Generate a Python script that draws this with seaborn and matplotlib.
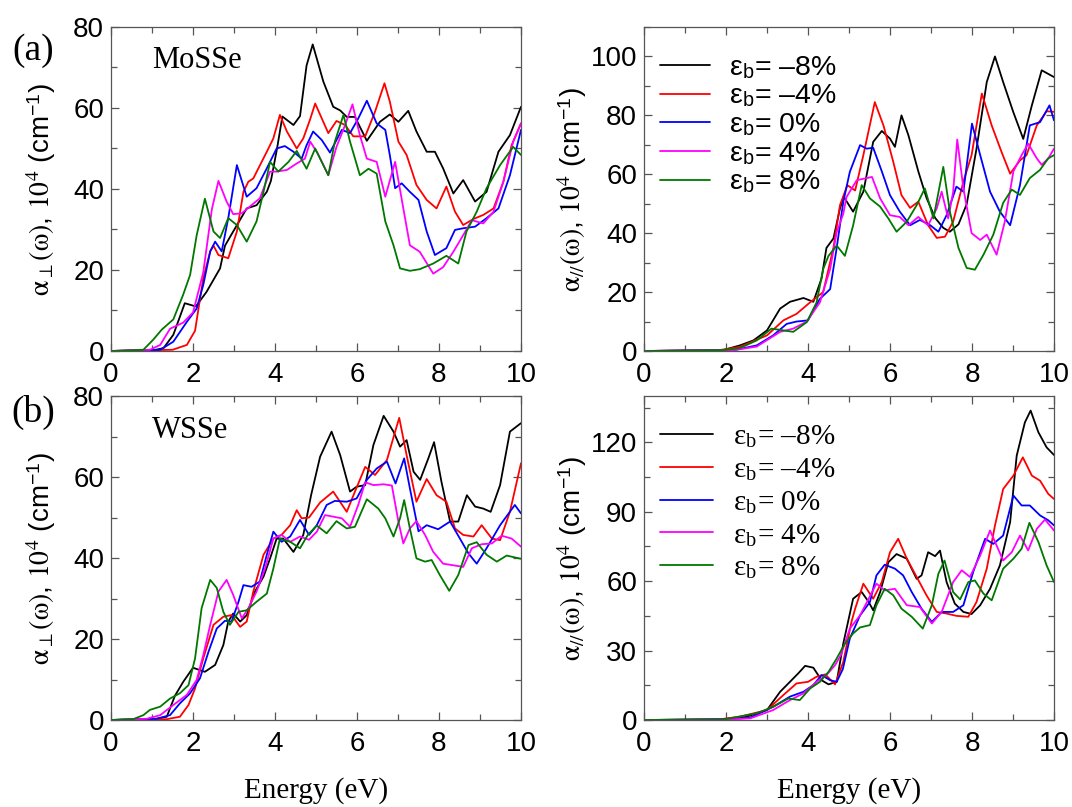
import matplotlib
matplotlib.use('Agg')
import matplotlib.pyplot as plt
import seaborn as sns
from matplotlib.ticker import MultipleLocator

# ---------------- (a) MoSSe, alpha_perp ----------------
a_perp_x_m8 = [0, 0.95, 1.28, 1.52, 1.8, 2.07, 2.33, 2.66, 2.78, 2.98, 3.31, 3.55, 3.8, 3.9, 4.05, 4.18, 4.45, 4.61, 4.77, 4.92, 5.18, 5.42, 5.59, 5.75, 5.95, 6.24, 6.56, 6.8, 7.01, 7.25, 7.45, 7.7, 7.9, 8.1, 8.35, 8.59, 8.88, 9.16, 9.45, 9.73, 10]
a_perp_y_m8 = [0, 0, 0.7, 4, 11.8, 11, 14.6, 20.4, 26, 29.5, 35.2, 36, 39.3, 42, 50, 57.9, 55.8, 58, 70.5, 75.7, 66.5, 60.3, 59.4, 57.8, 57.8, 51.9, 56.6, 58.4, 56.6, 59.3, 54.2, 49.2, 49.2, 45.1, 38.9, 42.2, 36.9, 39.3, 49.2, 53.3, 60.3]
a_perp_x_m4 = [0, 1.5, 1.85, 2.05, 2.25, 2.42, 2.5, 2.62, 2.86, 3.07, 3.23, 3.35, 3.47, 3.8, 3.96, 4.12, 4.29, 4.53, 4.69, 4.85, 4.98, 5.3, 5.5, 5.71, 5.91, 6.2, 6.44, 6.67, 6.8, 7.01, 7.21, 7.45, 7.7, 7.94, 8.18, 8.39, 8.59, 8.84, 9.08, 9.33, 9.57, 9.77, 10]
a_perp_y_m4 = [0, 0.3, 1.5, 5, 18, 24.6, 26, 23.7, 22.9, 29.5, 39.3, 41.8, 42.6, 49.2, 52.5, 58.3, 54.2, 50, 52.5, 57, 61.1, 53.8, 56.8, 55.8, 53, 53, 59.1, 66.1, 61.6, 51.7, 48.4, 41, 37.3, 35.2, 40.6, 34.4, 31.1, 32.6, 33.6, 35.2, 41.8, 50.8, 56.2]
a_perp_x_0 = [0, 1.2, 1.52, 1.85, 2.09, 2.25, 2.42, 2.54, 2.7, 2.86, 3.07, 3.31, 3.55, 3.8, 4.04, 4.24, 4.45, 4.65, 4.77, 4.93, 5.14, 5.34, 5.63, 5.83, 6.03, 6.24, 6.48, 6.69, 6.8, 6.93, 7.09, 7.29, 7.5, 7.7, 7.9, 8.18, 8.39, 8.59, 8.88, 9.16, 9.45, 9.73, 10]
a_perp_y_0 = [0, 0.3, 2.3, 7.2, 10.5, 16.3, 24.6, 27, 24.6, 32.8, 45.9, 38.1, 40.2, 45.1, 50, 50.6, 49.2, 47.5, 50.8, 54.2, 52.1, 49, 54.6, 53.8, 57.4, 61.8, 56.2, 54.6, 48.4, 40.2, 41.4, 39.3, 37.3, 29.5, 23.7, 25.4, 29.9, 30.3, 30.7, 32.8, 35.2, 43.4, 54.6]
a_perp_x_p4 = [0, 0.95, 1.2, 1.44, 1.76, 2.0, 2.25, 2.46, 2.62, 2.82, 2.98, 3.19, 3.39, 3.63, 3.88, 4.04, 4.29, 4.53, 4.73, 4.86, 5.04, 5.3, 5.5, 5.71, 5.89, 6.07, 6.24, 6.48, 6.69, 6.93, 7.13, 7.29, 7.53, 7.86, 8.1, 8.35, 8.59, 8.8, 9.08, 9.33, 9.57, 9.81, 10]
a_perp_y_p4 = [0, 0.3, 1.5, 5.5, 7, 9.5, 19.4, 35, 42, 36.9, 33.8, 34, 35.7, 37.7, 44.3, 44.3, 44.7, 46.3, 47.5, 51.7, 48.8, 43.4, 50.4, 55.8, 60.9, 53.3, 47.5, 46.7, 38.1, 46.7, 35.2, 26.1, 24.5, 19.1, 20.7, 24.5, 28.6, 32.3, 31.5, 34.4, 41.8, 51.7, 56.2]
a_perp_x_p8 = [0, 0.79, 1.03, 1.24, 1.52, 1.76, 1.93, 2.09, 2.29, 2.5, 2.66, 2.86, 3.07, 3.31, 3.55, 3.72, 3.88, 4.08, 4.33, 4.53, 4.77, 4.98, 5.3, 5.46, 5.67, 5.83, 6.07, 6.28, 6.48, 6.69, 6.89, 7.05, 7.29, 7.53, 7.86, 8.18, 8.47, 8.67, 8.92, 9.16, 9.49, 9.81, 10]
a_perp_y_p8 = [0, 0.3, 2.8, 5.3, 7.8, 13.9, 18.8, 28.6, 37.6, 29.5, 27.9, 32.8, 31.1, 27, 32, 39.3, 46.7, 44.3, 46.7, 49.4, 45, 50, 43.4, 51.7, 58.3, 51.7, 43.4, 45, 43.8, 32, 26.1, 20.4, 19.8, 20.2, 21.6, 23.5, 21.6, 29.5, 34.4, 40.2, 45.9, 50.4, 48.4]

# ---------------- (a) MoSSe, alpha_parallel ----------------
a_par_x_m8 = [0, 1.93, 2.34, 2.67, 3.0, 3.32, 3.56, 3.89, 4.13, 4.33, 4.45, 4.62, 4.78, 4.87, 5.1, 5.35, 5.59, 5.8, 6.0, 6.12, 6.28, 6.45, 6.69, 6.89, 7.1, 7.3, 7.46, 7.67, 7.87, 8.11, 8.36, 8.56, 8.76, 9.01, 9.25, 9.46, 9.7, 10]
a_par_y_m8 = [0, 0.3, 1.9, 3.6, 7, 14.4, 16.7, 18, 16.7, 24.6, 35, 38.2, 48.4, 52.4, 47.3, 54.1, 71, 74.7, 72.1, 69.3, 80, 73.2, 61, 52, 45.2, 41.8, 40.5, 43, 49.8, 68.7, 91.3, 100, 91.3, 81, 72, 83.4, 95.3, 93]
a_par_x_m4 = [0, 1.8, 2.34, 3.0, 3.4, 3.72, 4.05, 4.37, 4.62, 4.78, 4.96, 5.15, 5.35, 5.63, 5.84, 6.08, 6.28, 6.49, 6.69, 6.93, 7.14, 7.34, 7.54, 7.79, 7.99, 8.24, 8.48, 8.72, 8.93, 9.17, 9.33, 9.58, 9.82, 10]
a_par_y_m4 = [0, 0.2, 1.4, 5.3, 10.4, 12.6, 16.5, 20, 35, 49.5, 56.3, 54.5, 66.5, 84.5, 76.6, 64.2, 52.9, 48.6, 50.7, 42.7, 38.4, 38.8, 43.9, 57.5, 66.5, 87.4, 76.6, 67.6, 60.2, 64.7, 66.5, 76.6, 81.4, 81.2]
a_par_x_0 = [0, 2.2, 2.75, 3.15, 3.48, 3.72, 4.0, 4.29, 4.54, 4.7, 4.86, 5.02, 5.27, 5.43, 5.59, 5.8, 6.0, 6.24, 6.49, 6.73, 6.98, 7.18, 7.38, 7.62, 7.79, 8.0, 8.2, 8.44, 8.68, 8.93, 9.17, 9.41, 9.66, 9.89, 10]
a_par_y_0 = [0, 0.3, 1.9, 5.3, 9.2, 10, 10.4, 17.7, 21, 35, 50.6, 60.8, 69.9, 68.7, 69, 61, 52.9, 47.3, 42.7, 44.5, 42.7, 40.5, 46.1, 55.8, 54.1, 77.2, 66.5, 54.1, 47.3, 42.7, 56.3, 76.6, 77.7, 83.4, 78.3]
a_par_x_p4 = [0, 2.2, 2.75, 3.32, 3.64, 3.97, 4.29, 4.54, 4.7, 4.86, 4.94, 5.19, 5.43, 5.56, 5.76, 6.0, 6.24, 6.45, 6.69, 6.93, 7.14, 7.26, 7.42, 7.54, 7.64, 7.79, 7.99, 8.2, 8.36, 8.6, 8.8, 9.01, 9.21, 9.37, 9.58, 9.7, 9.86, 10]
a_par_y_p4 = [0, 0.3, 1.5, 6.5, 7.6, 10, 16.5, 27.8, 40.3, 46.6, 52.3, 58, 58.7, 59.1, 51.8, 46.1, 45.5, 42.7, 45.5, 42.7, 48.4, 54.1, 45, 54, 71.8, 55.2, 40, 37.7, 39.5, 32.7, 43.9, 61, 66.5, 70.4, 65.4, 63.2, 65.4, 68.7]
a_par_x_p8 = [0, 1.9, 2.34, 2.75, 3.11, 3.4, 3.64, 3.97, 4.21, 4.37, 4.5, 4.7, 4.9, 5.1, 5.31, 5.51, 5.76, 5.96, 6.16, 6.41, 6.65, 6.85, 7.06, 7.3, 7.46, 7.67, 7.87, 8.07, 8.28, 8.52, 8.76, 8.97, 9.17, 9.41, 9.66, 9.86, 10]
a_par_y_p8 = [0, 0.3, 1, 3.6, 7.6, 7, 6.5, 9.8, 16.5, 27.8, 32.3, 35.8, 32.3, 42.6, 56.3, 51.8, 49, 45, 40.5, 43.9, 49.5, 55.2, 45, 62.5, 47.3, 35, 28.2, 27.6, 32.7, 39.5, 50.3, 54.8, 53, 58.7, 61.5, 65.4, 66.5]

# ---------------- (b) WSSe, alpha_perp ----------------
b_perp_x_m8 = [0, 1.11, 1.36, 1.56, 1.76, 2.0, 2.29, 2.54, 2.74, 2.86, 2.98, 3.15, 3.31, 3.51, 3.72, 3.88, 4.04, 4.2, 4.45, 4.69, 4.88, 5.1, 5.38, 5.59, 5.83, 5.99, 6.2, 6.4, 6.65, 6.89, 7.05, 7.21, 7.38, 7.54, 7.74, 7.88, 8.06, 8.27, 8.47, 8.68, 8.88, 9.08, 9.26, 9.49, 9.73, 10]
b_perp_y_m8 = [0, 0.3, 0.8, 6, 9.4, 12.9, 11.9, 13.6, 18.5, 24.3, 26.3, 24.3, 25.9, 31.7, 35.4, 39.9, 44.8, 44.8, 41.5, 45.7, 55.5, 65, 71.2, 65.4, 56.4, 57.6, 58, 67.9, 75.1, 71.2, 67.5, 69.1, 61.3, 59.3, 64.6, 68.6, 58.8, 49, 49, 55.5, 52.7, 52.2, 51.4, 58, 71.2, 73.3]
b_perp_x_m4 = [0, 1.36, 1.68, 1.89, 2.05, 2.25, 2.5, 2.74, 2.94, 3.15, 3.31, 3.47, 3.72, 3.96, 4.16, 4.37, 4.53, 4.65, 4.83, 5.1, 5.42, 5.75, 5.95, 6.2, 6.44, 6.73, 6.93, 7.03, 7.21, 7.45, 7.7, 7.94, 8.18, 8.39, 8.59, 8.84, 9.04, 9.29, 9.49, 9.73, 10]
b_perp_y_m4 = [0, 0.2, 0.8, 3.7, 7.8, 15.2, 23.5, 25.5, 25.9, 23, 24.3, 31.7, 40.8, 44.8, 45.7, 48.1, 51.8, 49.8, 50, 53.7, 56.4, 51.4, 56.4, 62.5, 60.5, 64.2, 71.2, 74.6, 65.4, 53.9, 59.5, 55.5, 53.9, 47.3, 45.7, 45.3, 48.1, 44.8, 44.4, 51.4, 63.4]
b_perp_x_0 = [0, 1.11, 1.44, 1.68, 1.93, 2.17, 2.38, 2.58, 2.78, 2.94, 3.11, 3.23, 3.43, 3.63, 3.8, 3.96, 4.16, 4.37, 4.61, 4.83, 5.02, 5.26, 5.46, 5.75, 5.99, 6.24, 6.48, 6.73, 6.94, 7.15, 7.29, 7.5, 7.7, 7.98, 8.27, 8.51, 8.72, 8.92, 9.16, 9.49, 9.85, 10]
b_perp_y_0 = [0, 0.3, 1.2, 4.1, 6.6, 10.3, 16.9, 22.6, 24.5, 24.3, 29.2, 33.3, 32.9, 34.2, 40.8, 46.5, 44, 45.3, 49.4, 45.7, 48.1, 53.1, 54.1, 53.9, 54.7, 59.3, 62.1, 63.8, 58.4, 64.6, 57.2, 46.6, 48.1, 47.1, 49, 44.8, 41.1, 38.6, 42.4, 48.1, 53.1, 51]
b_perp_x_p4 = [0, 0.87, 1.2, 1.52, 1.85, 2.09, 2.25, 2.42, 2.62, 2.82, 2.98, 3.19, 3.35, 3.55, 3.76, 3.96, 4.16, 4.37, 4.61, 4.83, 5.02, 5.22, 5.42, 5.63, 5.83, 6.03, 6.2, 6.4, 6.65, 6.85, 7.01, 7.13, 7.29, 7.45, 7.66, 7.86, 8.1, 8.35, 8.59, 8.8, 9.04, 9.29, 9.53, 9.77, 10]
b_perp_y_p4 = [0, 0.3, 1.2, 3.7, 6.2, 9.9, 16, 23.5, 31.7, 34.6, 30.9, 25.1, 27.6, 31.7, 37.5, 44.8, 45.7, 44, 45.3, 44.5, 46.5, 50.6, 50.2, 49.8, 47.7, 53.1, 58.7, 58, 58.2, 57.9, 49, 43.6, 47.3, 49.1, 45.7, 41.5, 38.6, 38.2, 37.8, 42.4, 43.4, 43.6, 45.5, 44.8, 42.8]
b_perp_x_p8 = [0, 0.54, 0.79, 0.95, 1.2, 1.44, 1.68, 1.89, 2.05, 2.21, 2.42, 2.58, 2.74, 2.9, 3.11, 3.31, 3.55, 3.8, 3.96, 4.12, 4.37, 4.61, 4.8, 5.02, 5.26, 5.5, 5.75, 5.95, 6.24, 6.52, 6.69, 6.89, 7.05, 7.15, 7.29, 7.45, 7.66, 7.82, 8.02, 8.25, 8.47, 8.72, 8.92, 9.16, 9.41, 9.65, 10]
b_perp_y_p8 = [0, 0.2, 1.2, 2.5, 3.3, 5.3, 6.6, 8.6, 15.2, 27.6, 34.6, 32.6, 26.7, 23.5, 26.7, 27.1, 29.2, 31.2, 37.4, 44.8, 44, 42.4, 45.7, 48, 46.1, 49.1, 47.3, 47.7, 54.5, 52.2, 49.8, 45.3, 49.8, 54.3, 47.3, 39.9, 39.1, 39.5, 35.8, 31.9, 35.8, 43.2, 43.9, 40.8, 39.1, 40.6, 39.8]

# ---------------- (b) WSSe, alpha_parallel ----------------
b_par_x_m8 = [0, 1.93, 2.5, 3.0, 3.32, 3.56, 3.76, 3.93, 4.13, 4.33, 4.5, 4.7, 4.86, 5.1, 5.31, 5.48, 5.59, 5.76, 5.96, 6.16, 6.41, 6.65, 6.77, 6.93, 7.1, 7.22, 7.38, 7.58, 7.79, 7.99, 8.2, 8.44, 8.68, 8.93, 9.09, 9.29, 9.43, 9.62, 9.82, 10]
b_par_y_m8 = [0, 0.3, 1.4, 4.3, 12.2, 16.5, 20.1, 23.4, 22.6, 17.2, 15.4, 16.5, 33, 52.4, 55.3, 51, 47.4, 55.3, 68.2, 71.7, 69.7, 61, 62.5, 72.5, 70.8, 73.2, 59.6, 50.3, 46.7, 45.8, 49.6, 56.7, 66.8, 85.5, 114.2, 128.6, 133.7, 124.3, 117.8, 114.5]
b_par_x_m4 = [0, 1.8, 2.34, 3.0, 3.4, 3.72, 4.0, 4.21, 4.42, 4.66, 4.86, 5.06, 5.15, 5.35, 5.59, 5.8, 6.0, 6.2, 6.41, 6.65, 6.89, 7.14, 7.38, 7.62, 7.91, 8.11, 8.36, 8.56, 8.76, 9.01, 9.24, 9.46, 9.66, 9.86, 10]
b_par_y_m4 = [0, 0.2, 1.4, 4.3, 10.8, 15.8, 16.5, 18.7, 19.7, 15.4, 25.1, 42.4, 48.1, 58.9, 52.4, 59.6, 72.5, 78.3, 69.7, 61.8, 53.9, 46.7, 46, 45, 44.6, 51, 65.4, 84, 99.8, 105.6, 113.5, 105.6, 103.4, 97.7, 95.5]
b_par_x_0 = [0, 2.0, 2.59, 3.15, 3.56, 3.89, 4.13, 4.33, 4.54, 4.7, 4.85, 5.02, 5.27, 5.51, 5.67, 5.87, 6.12, 6.32, 6.53, 6.77, 7.02, 7.26, 7.54, 7.79, 8.03, 8.32, 8.52, 8.76, 9.01, 9.21, 9.41, 9.66, 9.86, 10]
b_par_y_0 = [0, 0.3, 1, 5.7, 10.1, 12.2, 15.1, 19.4, 17.2, 16.5, 22, 35.2, 45.2, 51, 62.5, 67.1, 65.4, 62.5, 55.3, 48.1, 42.4, 46.7, 46.7, 49.6, 64, 78.3, 76.1, 79.7, 97, 92.7, 92.7, 88.4, 86.3, 84.1]
b_par_x_p4 = [0, 2.0, 2.59, 3.15, 3.56, 3.89, 4.21, 4.45, 4.66, 4.8, 5.02, 5.27, 5.48, 5.67, 5.87, 6.12, 6.41, 6.73, 7.02, 7.26, 7.54, 7.75, 7.95, 8.2, 8.44, 8.76, 8.97, 9.17, 9.37, 9.58, 9.78, 10]
b_par_y_p4 = [0, 0.2, 0.7, 4.3, 8.6, 11.5, 16.5, 19.4, 23.7, 28, 39.5, 45.2, 52.4, 58.9, 56, 56.7, 49.6, 48.8, 41.7, 46.7, 59.6, 64.7, 61.8, 71.1, 81.9, 68.9, 72.5, 79.7, 73.3, 82.6, 86.6, 81.9]
b_par_x_p8 = [0, 1.93, 2.75, 3.15, 3.52, 3.8, 4.05, 4.29, 4.5, 4.7, 4.9, 5.1, 5.27, 5.51, 5.67, 5.87, 6.08, 6.28, 6.53, 6.8, 7.02, 7.18, 7.33, 7.54, 7.71, 7.91, 8.07, 8.28, 8.48, 8.76, 9.01, 9.21, 9.4, 9.62, 9.82, 10]
b_par_y_p8 = [0, 0.2, 2.9, 5.7, 9.3, 8.6, 13.6, 16.5, 20.8, 26.6, 33, 37.4, 40, 41, 49.6, 56.7, 53.9, 48.1, 44.6, 39.5, 49.6, 63.2, 68.9, 55.3, 52.1, 59.6, 60.3, 54.6, 51.7, 65.4, 69.7, 74, 85.2, 76.9, 66.8, 59.6]

strain_labels = ['ε$_\\mathregular{b}$= \u20138%', 'ε$_\\mathregular{b}$= \u20134%',
                 'ε$_\\mathregular{b}$= 0%', 'ε$_\\mathregular{b}$= 4%', 'ε$_\\mathregular{b}$= 8%']
line_colors = ['#000000', '#ff0000', '#0000ff', '#ff00ff', '#007800']
material_names = ['MoSSe', 'WSSe']
panel_tags = ['(a)', '(b)']

sns.set_theme(style='ticks')
plt.rcParams['font.family'] = ['Liberation Sans', 'DejaVu Sans']
plt.rcParams['mathtext.fontset'] = 'stix'
plt.rcParams['axes.edgecolor'] = '#555555'
plt.rcParams['axes.linewidth'] = 0.9
plt.rcParams['text.color'] = 'black'
plt.rcParams['axes.labelcolor'] = 'black'
plt.rcParams['xtick.labelcolor'] = 'black'
plt.rcParams['ytick.labelcolor'] = 'black'

W, H = 1072, 807
fig = plt.figure(figsize=(W / 100, H / 100), dpi=100)


def add_ax(l, t, r, b):
    return fig.add_axes([l / W, 1 - b / H, (r - l) / W, (b - t) / H])


ax_a1 = add_ax(111, 27, 521, 351)
ax_a2 = add_ax(644, 27, 1054, 351)
ax_b1 = add_ax(111, 396, 521, 720)
ax_b2 = add_ax(644, 396, 1054, 720)

panels = [
    (ax_a1, [(a_perp_x_m8, a_perp_y_m8), (a_perp_x_m4, a_perp_y_m4), (a_perp_x_0, a_perp_y_0),
             (a_perp_x_p4, a_perp_y_p4), (a_perp_x_p8, a_perp_y_p8)], 80, 20, 10, 'perp'),
    (ax_a2, [(a_par_x_m8, a_par_y_m8), (a_par_x_m4, a_par_y_m4), (a_par_x_0, a_par_y_0),
             (a_par_x_p4, a_par_y_p4), (a_par_x_p8, a_par_y_p8)], 110, 20, 10, 'par'),
    (ax_b1, [(b_perp_x_m8, b_perp_y_m8), (b_perp_x_m4, b_perp_y_m4), (b_perp_x_0, b_perp_y_0),
             (b_perp_x_p4, b_perp_y_p4), (b_perp_x_p8, b_perp_y_p8)], 80, 20, 10, 'perp'),
    (ax_b2, [(b_par_x_m8, b_par_y_m8), (b_par_x_m4, b_par_y_m4), (b_par_x_0, b_par_y_0),
             (b_par_x_p4, b_par_y_p4), (b_par_x_p8, b_par_y_p8)], 140, 30, 15, 'par'),
]

for ax, series, ymax, ymaj, ymin, kind in panels:
    for (xs, ys), c, lab in zip(series, line_colors, strain_labels):
        sns.lineplot(x=xs, y=ys, ax=ax, color=c, linewidth=1.3, estimator=None,
                     sort=False, label=lab if kind == 'par' else None, legend=False)
    ax.set_xlim(0, 10)
    ax.set_ylim(0, ymax)
    ax.xaxis.set_major_locator(MultipleLocator(2))
    ax.xaxis.set_minor_locator(MultipleLocator(1))
    ax.yaxis.set_major_locator(MultipleLocator(ymaj))
    ax.yaxis.set_minor_locator(MultipleLocator(ymin))
    ax.tick_params(which='both', direction='in', top=True, right=True,
                   color='#555555', width=0.9)
    ax.tick_params(which='major', length=6)
    ax.tick_params(which='minor', length=4)
    ax.tick_params(axis='x', which='major', labelsize=20, pad=8, labelcolor='black')
    ax.tick_params(axis='y', which='major', labelsize=20, pad=5, labelcolor='black')
    if kind == 'perp':
        ax.set_ylabel(r'$\mathrm{\alpha}_{\perp}(\mathrm{\omega})$, $\mathrm{10^4}$ (cm$^{\mathregular{-1}}$)',
                      fontsize=20, color='black')
        ax.yaxis.set_label_coords(-0.13, 0.5)
    else:
        ax.set_ylabel(r'$\mathrm{\alpha}_{//}(\mathrm{\omega})$, $\mathrm{10^4}$ (cm$^{\mathregular{-1}}$)',
                      fontsize=20, color='black')
        ax.yaxis.set_label_coords(-0.135, 0.5)
    ax.set_xlabel('')

for ax in (ax_b1, ax_b2):
    ax.set_xlabel('Energy (eV)', fontsize=21, family='Liberation Serif', color='black')
    ax.xaxis.set_label_coords(0.5, -0.175)

ax_a1.text(0.1, 0.898, material_names[0], transform=ax_a1.transAxes, ha='left', va='center',
           fontsize=22, family='Liberation Serif', color='black')
ax_b1.text(0.1, 0.895, material_names[1], transform=ax_b1.transAxes, ha='left', va='center',
           fontsize=22, family='Liberation Serif', color='black')

fig.text(33 / W, 1 - 51 / H, panel_tags[0], ha='center', va='center', fontsize=27,
         family='Liberation Serif', color='black')
fig.text(33 / W, 1 - 412 / H, panel_tags[1], ha='center', va='center', fontsize=27,
         family='Liberation Serif', color='black')

leg1 = ax_a2.legend(loc='upper left', bbox_to_anchor=(0.04, 0.915), frameon=False,
                    prop={'family': 'Liberation Sans', 'size': 20.5}, handlelength=1.75,
                    handletextpad=0.65, labelspacing=0.07, borderaxespad=0, borderpad=0)
leg2 = ax_b2.legend(loc='upper left', bbox_to_anchor=(0.04, 0.915), frameon=False,
                    prop={'family': 'Liberation Serif', 'size': 21}, handlelength=1.8,
                    handletextpad=0.7, labelspacing=0.2, borderaxespad=0, borderpad=0)
for leg in (leg1, leg2):
    for t in leg.get_texts():
        t.set_color('black')

fig.savefig('out.png', dpi=100)
